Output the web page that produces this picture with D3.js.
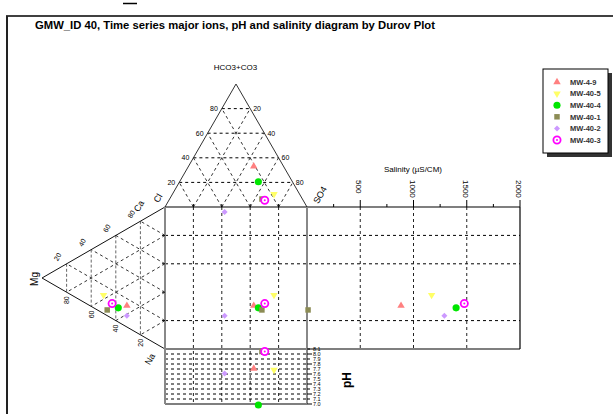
<!DOCTYPE html>
<html>
<head>
<meta charset="utf-8">
<script src="https://cdn.jsdelivr.net/npm/d3@7"></script>
<style>
body { margin: 0; background: #fff; }
text { font-family: "Liberation Sans", Arial, sans-serif; }
</style>
</head>
<body>
<script>
// Samples, in legend order
const samples = ["MW-4-9", "MW-40-5", "MW-40-4", "MW-40-1", "MW-40-2", "MW-40-3"];
const colors = ["#ff8080", "#ffff66", "#00e600", "#8c8c55", "#cc99ff", "#ff00ff"];

// Cations (% meq)
const ca = [15, 13, 10, 4, 8, 10.5];
const mg = [31, 50, 38, 47, 31, 43];
const na = [54, 37, 52, 49, 61, 46.5];

// Anions (% meq)
const hco3 = [33, 10.5, 20.5, 6.5, -4, 5.5];
const so4 = [46, 71.5, 55.5, 65, 44, 67.5];
const cl = [21, 18, 24, 28.5, 60, 27];

// Salinity (uS/cm) and pH
const salinity = [883, 1170, 1400, 10, 1290, 1477];
const ph = [7.71, 7.68, 6.98, 8.05, 7.61, 8.05];

// Axis ticks
const gridPct = [20, 40, 60, 80];
const squareRows = [-60, -20, 60];
const squareRowTicks = [-60, -20, 20, 60];
const salTicks = [500, 1000, 1500, 2000];
const salMinor = [250, 750, 1250, 1750];
const salGrid = [500, 1000, 1500];
const phTicks = [7.0, 7.1, 7.2, 7.3, 7.4, 7.5, 7.6, 7.7, 7.8, 7.9, 8.0, 8.1];

const width = 613;
const height = 414;

// Diagram geometry
const side = 142;
const triH = side * Math.sqrt(3) / 2;
const sqLeft = 165;
const sqTop = 207;
const sqRight = sqLeft + side;
const sqBottom = sqTop + side;
const salRight = 520;
const phBottom = 404;

const svg = d3.select("body")
    .append("svg")
    .attr("width", width)
    .attr("height", height);

// Scales
const xAn = d3.scaleLinear().domain([0, 100]).range([sqLeft, sqRight]);
const yHc = d3.scaleLinear().domain([0, 100]).range([sqTop, sqTop - triH]);
const xMg = d3.scaleLinear().domain([0, 100]).range([sqLeft, sqLeft - triH]);
const yCat = d3.scaleLinear().domain([-100, 100]).range([sqTop, sqBottom]);
const xSal = d3.scaleLinear().domain([0, 2000]).range([sqRight, salRight]);
const yPh = d3.scaleLinear().domain([7.0, 8.1]).range([phBottom, sqBottom]);

// ternary -> xy
const anXY = (h, s) => [xAn(s + h / 2), yHc(h)];
const catXY = (m, n) => [xMg(m), yCat(n - (100 - m - n))];

const line = d3.line();

function seg(p1, p2, stroke, dash, w) {
    svg.append("path")
        .attr("d", line([p1, p2]))
        .attr("stroke", stroke)
        .attr("stroke-width", w || 1)
        .attr("stroke-dasharray", dash || null)
        .attr("fill", "none");
}

// Frame
seg([6, 16], [613, 16], "#000", null, 1.5);
seg([7, 16], [7, 414], "#222", null, 2);
seg([123, 3.5], [137, 3.5], "#000", null, 1.5);

// Title
svg.append("text")
    .attr("x", 35)
    .attr("y", 29)
    .attr("font-size", 11)
    .attr("font-weight", "bold")
    .attr("textLength", 400)
    .attr("lengthAdjust", "spacingAndGlyphs")
    .text("GMW_ID 40, Time series major ions, pH and salinity diagram by Durov Plot");

// Top (anion) triangle grid
gridPct.forEach(v => {
    seg(anXY(v, 0), anXY(v, 100 - v), "#000", "3,3");
    seg(anXY(0, v), anXY(100 - v, v), "#333", "3,3");
    seg(anXY(0, 100 - v), anXY(100 - v, 0), "#333", "3,3");
});

// Left (cation) triangle grid
gridPct.forEach(v => {
    seg(catXY(v, 0), catXY(v, 100 - v), "#666", "3,2");
    seg(catXY(0, v), catXY(100 - v, v), "#333", "3,3");
    seg(catXY(0, 100 - v), catXY(100 - v, 0), "#333", "3,3");
});

// Square + salinity + pH grid
gridPct.forEach(v => {
    seg([xAn(v), sqTop], [xAn(v), phBottom], "#222", "3,3");
});
squareRows.forEach(r => {
    seg([sqLeft, yCat(r)], [salRight, yCat(r)], "#000", "3,3");
});
salGrid.forEach(s => {
    seg([xSal(s), sqTop], [xSal(s), sqBottom], "#222", "3,3");
});
phTicks.slice(1, -1).forEach(p => {
    seg([sqLeft, yPh(p)], [sqRight, yPh(p)], "#000", "3,3");
});

// Triangle outlines
svg.append("path")
    .attr("d", line([anXY(0, 0), anXY(100, 0), anXY(0, 100)]))
    .attr("fill", "none").attr("stroke", "#333");
svg.append("path")
    .attr("d", line([catXY(0, 0), catXY(100, 0), catXY(0, 100)]))
    .attr("fill", "none").attr("stroke", "#111");

// Panel borders
seg([sqLeft, sqTop], [salRight, sqTop], "#000", null, 1.2);
seg([sqLeft, sqBottom], [salRight, sqBottom], "#000", null, 1.2);
seg([sqLeft, phBottom], [sqRight, phBottom], "#000", null, 1.2);
seg([salRight, sqTop], [salRight, sqBottom], "#000", null, 1.2);
seg([sqLeft, sqTop], [sqLeft, phBottom], "#888", null, 2);
seg([sqRight, sqTop], [sqRight, phBottom], "#888", null, 2);

// Edge ticks
squareRowTicks.forEach(r => seg([sqLeft - 3, yCat(r)], [sqLeft, yCat(r)], "#000"));
gridPct.forEach(v => seg([xAn(v), sqTop - 3], [xAn(v), sqTop], "#000"));
salTicks.forEach(s => seg([xSal(s), sqTop - 7], [xSal(s), sqTop], "#000"));
salMinor.forEach(s => seg([xSal(s), sqTop - 3], [xSal(s), sqTop], "#000"));
phTicks.forEach((p, i) => seg([sqRight, yPh(p)], [sqRight + (i % 2 ? 3 : 5), yPh(p)], "#000"));

// Tick labels
const small = 7;
gridPct.forEach(v => {
    const p = anXY(v, 0);
    svg.append("text").attr("x", p[0] - 4).attr("y", p[1] + 2.5)
        .attr("text-anchor", "end").attr("font-size", small).text(v);
    const q = anXY(100 - v, v);
    svg.append("text").attr("x", q[0] + 3).attr("y", q[1] + 2.5)
        .attr("font-size", small).text(v);
    const c = catXY(100 - v, 0);
    svg.append("text")
        .attr("transform", `translate(${c[0] - 9},${c[1] - 7}) rotate(-60)`)
        .attr("text-anchor", "middle").attr("dy", "0.35em")
        .attr("font-size", small).text(v);
    const m = catXY(v, 100 - v);
    svg.append("text")
        .attr("transform", `translate(${m[0]},${m[1] + 8}) rotate(-90)`)
        .attr("text-anchor", "middle").attr("dy", "0.35em")
        .attr("font-size", small).text(v);
});

salTicks.forEach(s => {
    svg.append("text")
        .attr("transform", `translate(${xSal(s) - 4},180) rotate(90)`)
        .attr("font-size", 8).text(s);
});

phTicks.forEach(p => {
    svg.append("text").attr("x", sqRight + 6).attr("y", yPh(p) + 2)
        .attr("font-size", 5.5).text(p.toFixed(1));
});

// Axis titles
svg.append("text").attr("x", 235.5).attr("y", 70).attr("text-anchor", "middle")
    .attr("font-size", 8).text("HCO3+CO3");
svg.append("text").attr("x", 413).attr("y", 172).attr("text-anchor", "middle")
    .attr("font-size", 8).text("Salinity (µS/CM)");
svg.append("text").attr("transform", "translate(320,195) rotate(-60)")
    .attr("text-anchor", "middle").attr("dy", "0.35em").attr("font-size", 9).text("SO4");
svg.append("text").attr("transform", "translate(158,198) rotate(-60)")
    .attr("text-anchor", "middle").attr("dy", "0.35em").attr("font-size", 9).text("Cl");
svg.append("text").attr("transform", "translate(139,206) rotate(-60)")
    .attr("text-anchor", "middle").attr("dy", "0.35em").attr("font-size", 9).text("Ca");
svg.append("text").attr("transform", "translate(150,359) rotate(-60)")
    .attr("text-anchor", "middle").attr("dy", "0.35em").attr("font-size", 9).text("Na");
svg.append("text").attr("transform", "translate(34,279) rotate(-90)")
    .attr("text-anchor", "middle").attr("dy", "0.35em").attr("font-size", 10).text("Mg");
svg.append("text").attr("transform", "translate(347,380) rotate(-90)")
    .attr("text-anchor", "middle").attr("dy", "0.35em").attr("font-size", 12)
    .attr("font-weight", "bold").text("pH");

// Markers
function marker(g, i, x, y) {
    const t = `translate(${x},${y})`;
    if (i === 5) {
        g.append("circle").attr("cx", x).attr("cy", y).attr("r", 3.6)
            .attr("fill", "#fff").attr("stroke", colors[i]).attr("stroke-width", 1.8);
        g.append("circle").attr("cx", x).attr("cy", y).attr("r", 1)
            .attr("fill", colors[i]);
        return;
    }
    const types = [d3.symbolTriangle, d3.symbolTriangle, d3.symbolCircle,
                   d3.symbolSquare, d3.symbolSquare, null];
    const sizes = [24, 24, 40, 30, 18];
    const rot = [0, 180, 0, 0, 45];
    g.append("path")
        .attr("d", d3.symbol().type(types[i]).size(sizes[i])())
        .attr("transform", `${t} rotate(${rot[i]})`)
        .attr("fill", colors[i]);
}

const pts = svg.append("g");
samples.forEach((s, i) => {
    const a = anXY(hco3[i], so4[i]);
    const c = catXY(mg[i], na[i]);
    marker(pts, i, a[0], a[1]);
    marker(pts, i, c[0], c[1]);
    marker(pts, i, a[0], c[1]);
    marker(pts, i, xSal(salinity[i]), c[1]);
    marker(pts, i, a[0], yPh(ph[i]));
});

// Legend
const lg = svg.append("g");
lg.append("rect").attr("x", 547).attr("y", 73).attr("width", 65).attr("height", 84).attr("fill", "#333");
lg.append("rect").attr("x", 543).attr("y", 69).attr("width", 65).attr("height", 84)
    .attr("fill", "#fff").attr("stroke", "#000");
samples.forEach((s, i) => {
    const y = 82 + i * 11.6;
    marker(lg, i, 557, y);
    lg.append("text").attr("x", 570).attr("y", y + 2.8)
        .attr("font-size", 7.5).attr("font-weight", "bold").attr("fill", "#333").text(s);
});
</script>
</body>
</html>
